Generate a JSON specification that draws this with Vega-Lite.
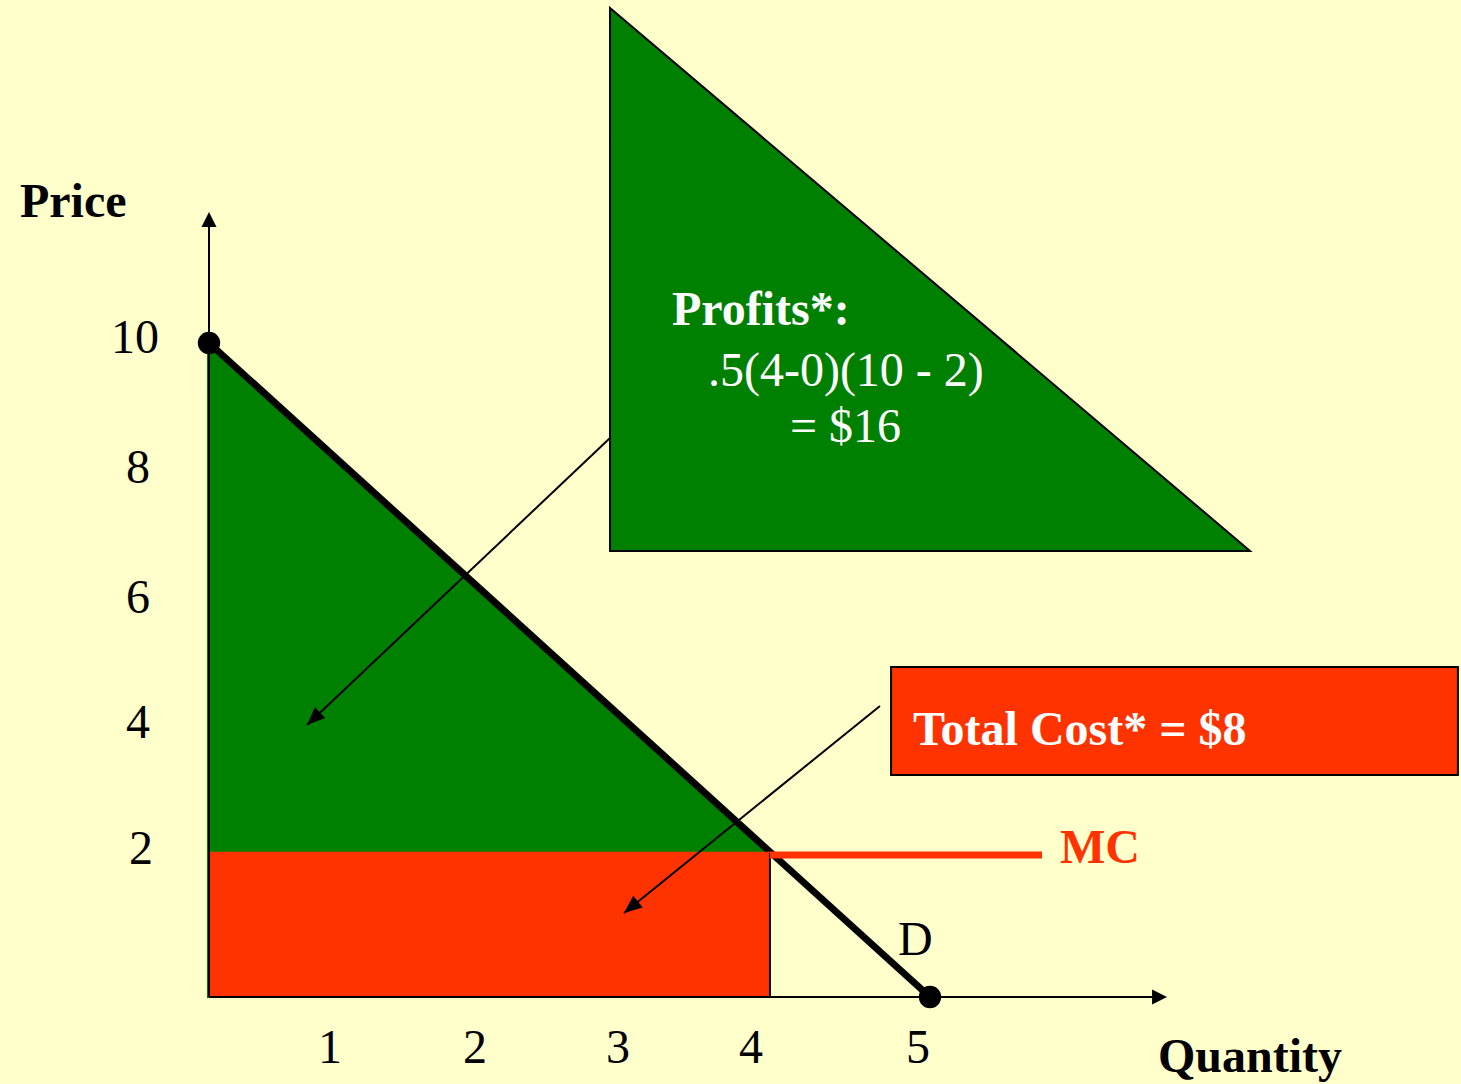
{
  "$schema": "https://vega.github.io/schema/vega-lite/v6.json",
  "width": 1461,
  "height": 1084,
  "autosize": {"type": "fit", "contains": "padding"},
  "padding": 0,
  "background": "#FFFFCC",
  "config": {"view": {"stroke": null}},
  "datasets": {
    "callout": [{"x": 2.781, "y": 15.122, "y2": 6.82}, {"x": 7.219, "y": 6.82, "y2": 6.82}],
    "profit": [{"x": -0.014, "y": 10, "y2": -0.02}, {"x": 3.89, "y": 2.22, "y2": 2.22}],
    "demand": [{"x": 0, "y": 10, "x2": 5, "y2": 0}],
    "cost": [{"x": 0, "x2": 3.89, "y": 0, "y2": 2.22}],
    "costEdge": [{"x": 3.89, "y": 0, "y2": 2.2}],
    "mc": [{"x": 3.89, "x2": 5.777, "y": 2.171}],
    "axes": [{"x": 0, "y": 0, "x2": 0, "y2": 11.79}, {"x": 0, "y": 0, "x2": 6.54, "y2": 0}],
    "axisHeads": [{"x": 0, "y": 12.003, "angle": 0}, {"x": 6.644, "y": 0, "angle": 90}],
    "ends": [{"x": 0, "y": 10}, {"x": 5, "y": 0}],
    "pointers": [{"x": 2.781, "y": 8.547, "x2": 0.68, "y2": 4.159}, {"x": 4.653, "y": 4.45, "x2": 2.878, "y2": 1.284}],
    "pointerHeads": [{"x": 0.68, "y": 4.159, "angle": 226.5}, {"x": 2.878, "y": 1.284, "angle": 231}],
    "costBox": [{"x": 4.73, "x2": 8.661, "y": 5.046, "y2": 3.394}],
    "boldBlack": [{"x": -1.311, "y": 11.927, "label": "Price"}, {"x": 6.581, "y": -1.147, "label": "Quantity"}],
    "ticksY": [
      {"x": -0.513, "y": 9.847, "label": "10"},
      {"x": -0.492, "y": 7.859, "label": "8"},
      {"x": -0.492, "y": 5.872, "label": "6"},
      {"x": -0.492, "y": 3.96, "label": "4"},
      {"x": -0.472, "y": 2.034, "label": "2"}
    ],
    "ticksX": [
      {"x": 0.839, "y": -1.009, "label": "1"},
      {"x": 1.845, "y": -1.009, "label": "2"},
      {"x": 2.836, "y": -1.009, "label": "3"},
      {"x": 3.759, "y": -1.009, "label": "4"},
      {"x": 4.917, "y": -1.009, "label": "5"}
    ],
    "plainBlack": [{"x": 4.778, "y": 0.642, "label": "D"}],
    "boldWhite": [{"x": 3.211, "y": 10.275, "label": "Profits*:"}, {"x": 4.882, "y": 3.853, "label": "Total Cost* = $8"}],
    "plainWhite": [{"x": 3.46, "y": 9.343, "label": ".5(4-0)(10 - 2)"}, {"x": 4.029, "y": 8.486, "label": "= $16"}],
    "boldRed": [{"x": 5.901, "y": 2.049, "label": "MC"}]
  },
  "encoding": {
    "x": {"field": "x", "type": "quantitative", "scale": {"domain": [-1.4494, 8.6824], "nice": false, "zero": false}, "axis": null},
    "y": {"field": "y", "type": "quantitative", "scale": {"domain": [-1.3303, 15.2446], "nice": false, "zero": false}, "axis": null}
  },
  "layer": [
    {"data": {"name": "callout"}, "mark": {"type": "area", "color": "#008000", "stroke": "#000000", "strokeWidth": 2, "opacity": 1}, "encoding": {"y2": {"field": "y2"}}},
    {"data": {"name": "profit"}, "mark": {"type": "area", "color": "#008000", "opacity": 1}, "encoding": {"y2": {"field": "y2"}}},
    {"data": {"name": "demand"}, "mark": {"type": "rule", "color": "#000000", "strokeWidth": 7}, "encoding": {"x2": {"field": "x2"}, "y2": {"field": "y2"}}},
    {"data": {"name": "cost"}, "mark": {"type": "rect", "color": "#FF3300", "opacity": 1}, "encoding": {"x2": {"field": "x2"}, "y2": {"field": "y2"}}},
    {"data": {"name": "costEdge"}, "mark": {"type": "rule", "color": "#000000", "strokeWidth": 2}, "encoding": {"y2": {"field": "y2"}}},
    {"data": {"name": "mc"}, "mark": {"type": "rule", "color": "#FF3300", "strokeWidth": 7}, "encoding": {"x2": {"field": "x2"}}},
    {"data": {"name": "axes"}, "mark": {"type": "rule", "color": "#000000", "strokeWidth": 2}, "encoding": {"x2": {"field": "x2"}, "y2": {"field": "y2"}}},
    {"data": {"name": "axisHeads"}, "mark": {"type": "point", "shape": "M0,0 L-0.5,1 L0.5,1 Z", "size": 900, "filled": true, "color": "#000000", "opacity": 1, "strokeWidth": 0}, "encoding": {"angle": {"field": "angle", "type": "quantitative", "scale": null}}},
    {"data": {"name": "ends"}, "mark": {"type": "point", "shape": "circle", "size": 500, "filled": true, "color": "#000000", "opacity": 1}},
    {"data": {"name": "pointers"}, "mark": {"type": "rule", "color": "#000000", "strokeWidth": 2}, "encoding": {"x2": {"field": "x2"}, "y2": {"field": "y2"}}},
    {"data": {"name": "pointerHeads"}, "mark": {"type": "point", "shape": "M0,0 L-0.42,1 L0.42,1 Z", "size": 1300, "filled": true, "color": "#000000", "opacity": 1, "strokeWidth": 0}, "encoding": {"angle": {"field": "angle", "type": "quantitative", "scale": null}}},
    {"data": {"name": "costBox"}, "mark": {"type": "rect", "color": "#FF3300", "stroke": "#000000", "strokeWidth": 2, "opacity": 1}, "encoding": {"x2": {"field": "x2"}, "y2": {"field": "y2"}}},
    {"data": {"name": "boldBlack"}, "mark": {"type": "text", "font": "Liberation Serif", "fontSize": 48, "fontWeight": "bold", "color": "#000000", "align": "left", "baseline": "alphabetic"}, "encoding": {"text": {"field": "label"}}},
    {"data": {"name": "ticksY"}, "mark": {"type": "text", "font": "Liberation Serif", "fontSize": 48, "color": "#000000", "align": "center", "baseline": "alphabetic"}, "encoding": {"text": {"field": "label"}}},
    {"data": {"name": "ticksX"}, "mark": {"type": "text", "font": "Liberation Serif", "fontSize": 48, "color": "#000000", "align": "center", "baseline": "alphabetic"}, "encoding": {"text": {"field": "label"}}},
    {"data": {"name": "plainBlack"}, "mark": {"type": "text", "font": "Liberation Serif", "fontSize": 48, "color": "#000000", "align": "left", "baseline": "alphabetic"}, "encoding": {"text": {"field": "label"}}},
    {"data": {"name": "boldWhite"}, "mark": {"type": "text", "font": "Liberation Serif", "fontSize": 48, "fontWeight": "bold", "color": "#FFFFFF", "align": "left", "baseline": "alphabetic"}, "encoding": {"text": {"field": "label"}}},
    {"data": {"name": "plainWhite"}, "mark": {"type": "text", "font": "Liberation Serif", "fontSize": 48, "color": "#FFFFFF", "align": "left", "baseline": "alphabetic"}, "encoding": {"text": {"field": "label"}}},
    {"data": {"name": "boldRed"}, "mark": {"type": "text", "font": "Liberation Serif", "fontSize": 48, "fontWeight": "bold", "color": "#FF3300", "align": "left", "baseline": "alphabetic"}, "encoding": {"text": {"field": "label"}}}
  ]
}
